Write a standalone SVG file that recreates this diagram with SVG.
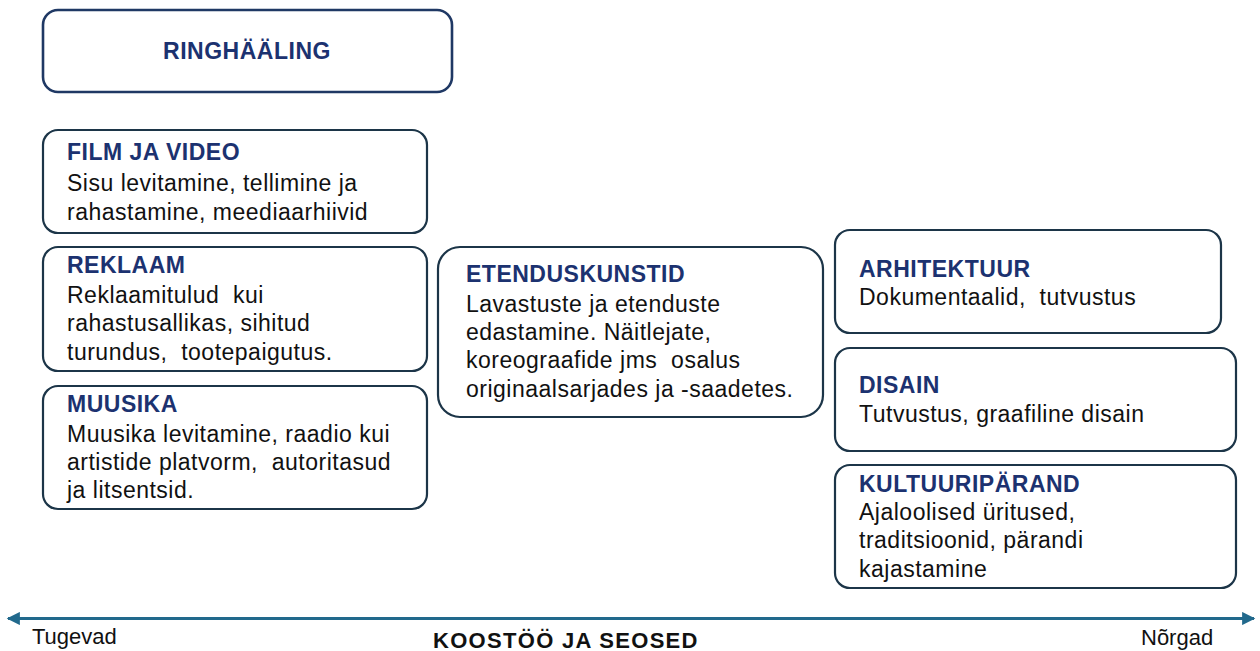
<svg xmlns="http://www.w3.org/2000/svg" width="1260" height="651" viewBox="0 0 1260 651">
<style>
.box{fill:#fff;stroke:#1c3548;stroke-width:2.2}
.top{fill:#fff;stroke:#1f3864;stroke-width:2.6}
.h{font-family:"Liberation Sans",Arial,sans-serif;font-weight:bold;font-size:23px;fill:#1c3270;letter-spacing:0.5px}
.t{font-family:"Liberation Sans",Arial,sans-serif;font-size:23px;fill:#111;letter-spacing:0.5px}
.ax{font-family:"Liberation Sans",Arial,sans-serif;font-size:22px;fill:#111}
.axb{font-family:"Liberation Sans",Arial,sans-serif;font-size:22px;font-weight:bold;fill:#111;letter-spacing:1.3px}
</style>
<defs>
<marker id="ah" viewBox="0 0 10 10" refX="9" refY="5" markerWidth="4.6" markerHeight="4.4" orient="auto-start-reverse" markerUnits="strokeWidth">
<path d="M0,0 L10,5 L0,10 Z" fill="#21698c"/>
</marker>
</defs>
<rect width="1260" height="651" fill="#fff"/>
<g id="connectors">
<line x1="8" y1="618.5" x2="1254" y2="618.5" stroke="#21698c" stroke-width="3" marker-start="url(#ah)" marker-end="url(#ah)"/>
</g>
<g id="ringhaaling">
<rect class="top" x="43" y="10" width="409" height="82" rx="15"/>
<text class="h" x="247" y="59" text-anchor="middle">RINGHÄÄLING</text>
</g>
<g id="film">
<rect class="box" x="43" y="130" width="384" height="103" rx="15"/>
<text class="h" x="67" y="160">FILM JA VIDEO</text>
<text class="t" x="67" y="191">Sisu levitamine, tellimine ja</text>
<text class="t" x="67" y="220">rahastamine, meediaarhiivid</text>
</g>
<g id="reklaam">
<rect class="box" x="43" y="247" width="384" height="124" rx="15"/>
<text class="h" x="67" y="273">REKLAAM</text>
<text class="t" x="67" y="303" xml:space="preserve">Reklaamitulud  kui</text>
<text class="t" x="67" y="331">rahastusallikas, sihitud</text>
<text class="t" x="67" y="360" xml:space="preserve">turundus,  tootepaigutus.</text>
</g>
<g id="muusika">
<rect class="box" x="43" y="386" width="384" height="123" rx="15"/>
<text class="h" x="67" y="412">MUUSIKA</text>
<text class="t" x="67" y="442">Muusika levitamine, raadio kui</text>
<text class="t" x="67" y="470" xml:space="preserve">artistide platvorm,  autoritasud</text>
<text class="t" x="67" y="498">ja litsentsid.</text>
</g>
<g id="etenduskunstid">
<rect class="box" x="438" y="247" width="385" height="170" rx="22"/>
<text class="h" x="466" y="282">ETENDUSKUNSTID</text>
<text class="t" x="466" y="312">Lavastuste ja etenduste</text>
<text class="t" x="466" y="340">edastamine. Näitlejate,</text>
<text class="t" x="466" y="368" xml:space="preserve">koreograafide jms  osalus</text>
<text class="t" x="466" y="397">originaalsarjades ja -saadetes.</text>
</g>
<g id="arhitektuur">
<rect class="box" x="835" y="230" width="386" height="103" rx="15"/>
<text class="h" x="859" y="277">ARHITEKTUUR</text>
<text class="t" x="859" y="305" xml:space="preserve">Dokumentaalid,  tutvustus</text>
</g>
<g id="disain">
<rect class="box" x="835" y="348" width="401" height="103" rx="15"/>
<text class="h" x="859" y="393">DISAIN</text>
<text class="t" x="859" y="422">Tutvustus, graafiline disain</text>
</g>
<g id="kultuuriparand">
<rect class="box" x="835" y="465" width="401" height="123" rx="15"/>
<text class="h" x="859" y="492">KULTUURIPÄRAND</text>
<text class="t" x="859" y="520">Ajaloolised üritused,</text>
<text class="t" x="859" y="548">traditsioonid, pärandi</text>
<text class="t" x="859" y="577">kajastamine</text>
</g>
<g id="axis-labels">
<text class="ax" x="32" y="644">Tugevad</text>
<text class="axb" x="433" y="648">KOOSTÖÖ JA SEOSED</text>
<text class="ax" x="1141" y="645">Nõrgad</text>
</g>
</svg>
